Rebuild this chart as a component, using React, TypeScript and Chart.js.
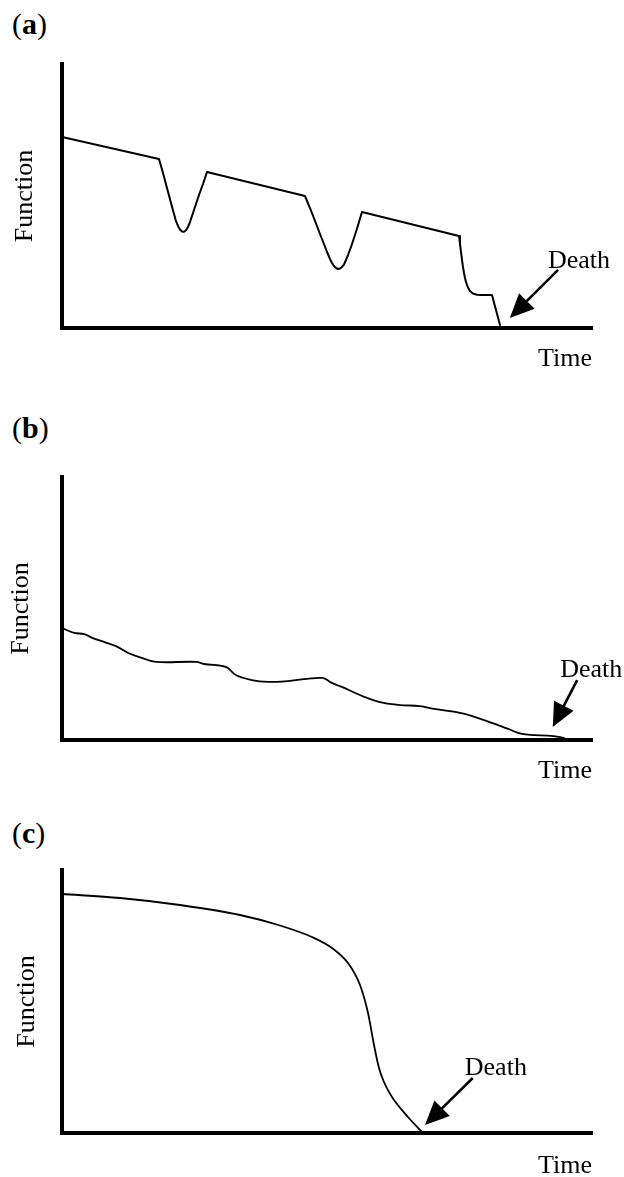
import React, { useEffect, useRef } from "react";
import { Chart, registerables } from "chart.js";

Chart.register(...registerables);

// ---------- Data (Time and Function on a 0–100 scale) ----------
// Panel (a): stepwise decline with partial recoveries
const timeA = [0,
  18.3, 19.06, 19.81, 20.57, 21.13, 21.51, 21.89, 22.26, 22.64, 23.02, 23.4, 23.77, 24.15, 24.53, 25.09, 25.85, 26.6, 27.36,
  45.85, 46.79, 47.74, 48.68, 49.43, 50.0, 50.57, 50.94, 51.32, 51.7, 52.08, 52.45, 52.83, 53.21, 53.58, 53.96, 54.53, 55.28, 56.04, 56.6,
  74.91, 75.09, 75.28, 75.47, 75.66, 75.85, 76.04, 76.23, 76.6, 76.98, 77.55, 78.3, 79.06, 81.13, 82.64];
const functionA = [72.35,
  64.02, 58.71, 53.03, 47.35, 43.18, 40.53, 38.64, 37.31, 36.55, 36.44, 37.01, 38.26, 40.15, 42.42, 45.83, 50.38, 54.55, 59.09,
  50.0, 45.45, 40.53, 35.61, 31.82, 28.79, 26.14, 24.62, 23.48, 22.73, 22.35, 22.54, 23.11, 24.05, 25.76, 27.65, 30.68, 35.23, 40.15, 43.94,
  34.85, 31.82, 28.79, 25.76, 23.11, 20.83, 18.94, 17.42, 15.34, 14.02, 13.07, 12.58, 12.5, 12.5, 1.14];

// Panel (b): gradual, irregular decline
const timeB = [0, 2.3, 4.2, 5.7, 7.9, 10.2, 12.5, 15.1, 17.7, 25.3, 26.8, 30.9, 32.8, 35.8, 38.9, 42.6, 49.1,
  50.9, 52.8, 56.2, 60.0, 63.8, 67.5, 70.2, 75.1, 77.4, 81.1, 84.2, 86.8, 92.8, 94.7];
const functionB = [42.6, 40.7, 40.3, 38.8, 37.3, 35.7, 33.1, 31.2, 29.7, 29.7, 28.9, 27.8, 24.7, 22.8, 22.1, 22.4, 23.6,
  21.7, 20.2, 17.1, 14.4, 13.3, 12.9, 11.8, 10.3, 9.1, 6.5, 4.2, 2.3, 1.5, 0.8];

// Panel (c): high function, then rapid terminal decline
const timeC = [0, 10.94, 22.26, 33.58, 41.13, 47.17, 50.94, 53.96, 56.23, 57.74, 58.87, 59.81, 60.75, 62.26, 65.28, 67.92];
const functionC = [90.87, 89.35, 86.69, 82.89, 78.9, 74.52, 70.34, 64.64, 56.27, 45.63, 33.46, 24.71, 19.39, 13.69, 6.08, 0.38];

// "Death" annotations: [time, function] in data units
const deathLabelA = [91.7, 22.7];
const deathTailA = [93.6, 22.0];
const deathTipA = [84.5, 3.8];

const deathLabelB = [94.0, 24.0];
const deathTailB = [97.2, 22.8];
const deathTipB = [92.6, 4.9];

const deathLabelC = [76.0, 22.1];
const deathTailC = [77.5, 20.9];
const deathTipC = [68.5, 3.0];

const panelLetters = ["a", "b", "c"];
const xAxisTitle = "Time";
const yAxisTitle = "Function";
const deathText = "Death";

// ---------- Layout / style ----------
const FONT = '"Liberation Serif", "Times New Roman", Times, serif';
const TITLE_LH = 26 * 1.2;

type Panel = {
  letter: string;
  times: number[];
  values: number[];
  label: number[];
  tail: number[];
  tip: number[];
  top: number;
  height: number;
  areaTop: number;
  areaBottom: number;
  xTitlePad: number;
  yTitlePad: number;
  letterTop: number;
  lineWidth: number;
  tension: number;
  mono: boolean;
};

const panels: Panel[] = [
  { letter: panelLetters[0], times: timeA, values: functionA, label: deathLabelA, tail: deathTailA, tip: deathTipA,
    top: 0, height: 400, areaTop: 64, areaBottom: 328, xTitlePad: 15.4, yTitlePad: 9.4, letterTop: 9,
    lineWidth: 2, tension: 0, mono: false },
  { letter: panelLetters[1], times: timeB, values: functionB, label: deathLabelB, tail: deathTailB, tip: deathTipB,
    top: 380, height: 420, areaTop: 97, areaBottom: 360, xTitlePad: 15.4, yTitlePad: 5.4, letterTop: 413,
    lineWidth: 1.8, tension: 0.4, mono: false },
  { letter: panelLetters[2], times: timeC, values: functionC, label: deathLabelC, tail: deathTailC, tip: deathTipC,
    top: 780, height: 410, areaTop: 90, areaBottom: 353, xTitlePad: 17.4, yTitlePad: 11.4, letterTop: 818,
    lineWidth: 1.8, tension: 0.4, mono: true },
];

const deathPlugin = {
  id: "deathArrow",
  afterDatasetsDraw(chart: any, _args: any, opts: any) {
    const { ctx } = chart;
    const xs = chart.scales.x;
    const ys = chart.scales.y;
    const tx = xs.getPixelForValue(opts.tail[0]);
    const ty = ys.getPixelForValue(opts.tail[1]);
    const px = xs.getPixelForValue(opts.tip[0]);
    const py = ys.getPixelForValue(opts.tip[1]);
    const dx = px - tx;
    const dy = py - ty;
    const len = Math.hypot(dx, dy);
    const ux = dx / len;
    const uy = dy / len;
    const headLen = 24;
    const headHalf = 11;
    const bx = px - ux * headLen;
    const by = py - uy * headLen;
    ctx.save();
    ctx.strokeStyle = "#000";
    ctx.fillStyle = "#000";
    ctx.lineWidth = 2.6;
    ctx.beginPath();
    ctx.moveTo(tx, ty);
    ctx.lineTo(bx + ux * 2, by + uy * 2);
    ctx.stroke();
    ctx.beginPath();
    ctx.moveTo(px, py);
    ctx.lineTo(bx - uy * headHalf, by + ux * headHalf);
    ctx.lineTo(bx + uy * headHalf, by - ux * headHalf);
    ctx.closePath();
    ctx.fill();
    ctx.font = `26px ${FONT}`;
    ctx.textAlign = "left";
    ctx.textBaseline = "alphabetic";
    ctx.fillText(opts.text, xs.getPixelForValue(opts.label[0]), ys.getPixelForValue(opts.label[1]));
    ctx.restore();
  },
};

function PanelChart({ p }: { p: Panel }) {
  const ref = useRef<HTMLCanvasElement | null>(null);
  useEffect(() => {
    if (!ref.current) return;
    const padBottom = p.height - p.areaBottom - (TITLE_LH + p.xTitlePad);
    const yPadBottom = 62 - TITLE_LH - p.yTitlePad;
    const chart = new Chart(ref.current, {
      type: "line",
      data: {
        datasets: [
          {
            data: p.times.map((t, i) => ({ x: t, y: p.values[i] })),
            borderColor: "#000",
            borderWidth: p.lineWidth,
            pointRadius: 0,
            pointHoverRadius: 0,
            fill: false,
            tension: p.tension,
            cubicInterpolationMode: p.mono ? "monotone" : "default",
            borderCapStyle: "round",
            borderJoinStyle: "round",
          } as any,
        ],
      },
      options: {
        responsive: false,
        animation: false,
        devicePixelRatio: 1,
        events: [],
        layout: { padding: { left: 0, top: p.areaTop, right: 32, bottom: padBottom } },
        plugins: {
          legend: { display: false },
          tooltip: { enabled: false },
          title: { display: false },
          deathArrow: { text: deathText, label: p.label, tail: p.tail, tip: p.tip },
        } as any,
        scales: {
          x: {
            type: "linear",
            min: 0,
            max: 100,
            grid: { display: false, drawTicks: false },
            ticks: { display: false },
            border: { display: true, color: "#000", width: 4 },
            title: {
              display: true,
              text: xAxisTitle,
              align: "end",
              color: "#000",
              font: { family: FONT, size: 26, lineHeight: 1.2 },
              padding: { top: p.xTitlePad, bottom: 0 },
            },
          },
          y: {
            type: "linear",
            min: 0,
            max: 100,
            grid: { display: false, drawTicks: false },
            ticks: { display: false },
            border: { display: true, color: "#000", width: 4 },
            title: {
              display: true,
              text: yAxisTitle,
              align: "center",
              color: "#000",
              font: { family: FONT, size: 26, lineHeight: 1.2 },
              padding: { top: p.yTitlePad, bottom: yPadBottom },
            },
          },
        },
      } as any,
      plugins: [deathPlugin],
    });
    return () => chart.destroy();
  }, [p]);
  return (
    <>
      <div
        style={{
          position: "absolute",
          left: 12,
          top: p.letterTop,
          font: `30px ${FONT}`,
          lineHeight: "30px",
          color: "#000",
          whiteSpace: "nowrap",
        }}
      >
        (<b>{p.letter}</b>)
      </div>
      <canvas
        ref={ref}
        width={624}
        height={p.height}
        style={{ position: "absolute", left: 0, top: p.top, width: 624, height: p.height }}
      />
    </>
  );
}

export default function App() {
  return (
    <div
      style={{
        position: "absolute",
        left: 0,
        top: 0,
        width: 624,
        height: 1177,
        overflow: "hidden",
        background: "#fff",
      }}
    >
      {panels.map((p) => (
        <PanelChart key={p.letter} p={p} />
      ))}
    </div>
  );
}
